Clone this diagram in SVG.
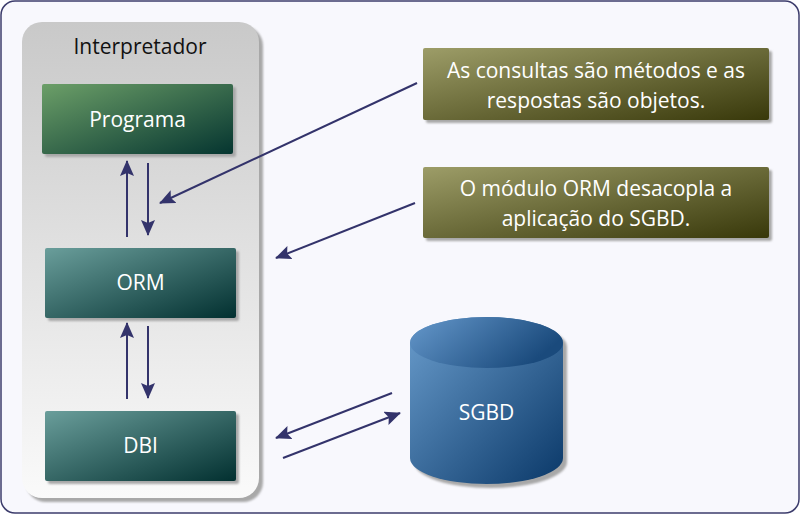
<svg xmlns="http://www.w3.org/2000/svg" width="800" height="514" viewBox="0 0 800 514">
<defs>
<linearGradient id="gCont" x1="0" y1="0" x2="0" y2="1">
<stop offset="0" stop-color="#c9c9c9"/><stop offset="1" stop-color="#fafafa"/>
</linearGradient>
<linearGradient id="gProg" x1="0" y1="0" x2="1" y2="1">
<stop offset="0" stop-color="#6c9f68"/><stop offset="1" stop-color="#053530"/>
</linearGradient>
<linearGradient id="gTeal" x1="0" y1="0" x2="1" y2="1">
<stop offset="0" stop-color="#6a9e9b"/><stop offset="1" stop-color="#023030"/>
</linearGradient>
<linearGradient id="gNote" x1="0" y1="0" x2="1" y2="1">
<stop offset="0" stop-color="#9d9d68"/><stop offset="1" stop-color="#38380a"/>
</linearGradient>
<linearGradient id="gCyl" x1="0" y1="0" x2="1" y2="1">
<stop offset="0" stop-color="#6a9dcd"/><stop offset="1" stop-color="#0a3868"/>
</linearGradient>
<linearGradient id="gCylTop" x1="0" y1="0" x2="1" y2="0.4">
<stop offset="0" stop-color="#6699cc"/><stop offset="1" stop-color="#1a4a7c"/>
</linearGradient>
<filter id="blur" x="-10%" y="-10%" width="120%" height="120%"><feGaussianBlur stdDeviation="1.2"/></filter>
<marker id="ah" viewBox="0 0 16 14" refX="15" refY="7" markerWidth="16" markerHeight="14" markerUnits="userSpaceOnUse" orient="auto">
<path d="M0,0 L16,7 L0,14 L3,7 Z" fill="#33336b"/>
</marker>
</defs>
<style>
.lbl{font-family:"Open Sans","Noto Sans","DejaVu Sans",sans-serif;font-size:21px;fill:#ffffff;text-anchor:middle}
.title{font-family:"Open Sans","Noto Sans","DejaVu Sans",sans-serif;font-size:21px;fill:#111111;text-anchor:middle}
.shadow{fill:#a8a8a8;filter:url(#blur)}
.conn{stroke:#33336b;stroke-width:2;fill:none;marker-end:url(#ah)}
</style>
<rect x="1" y="1" width="798" height="512" rx="14" fill="#f8f8fd" stroke="#3c3c6c" stroke-width="1.5"/>
<g id="interpretador">
<rect x="26" y="26" width="237" height="476" rx="20" class="shadow"/>
<rect x="22" y="22" width="237" height="476" rx="20" fill="url(#gCont)"/>
<text x="140" y="54" class="title">Interpretador</text>
</g>
<g id="programa">
<rect x="45" y="87" width="191" height="70" rx="2" class="shadow"/>
<rect x="42" y="84" width="191" height="70" rx="2" fill="url(#gProg)"/>
<text x="137.5" y="127" class="lbl">Programa</text>
</g>
<g id="orm">
<rect x="48" y="251" width="191" height="70" rx="2" class="shadow"/>
<rect x="45" y="248" width="191" height="70" rx="2" fill="url(#gTeal)"/>
<text x="140.5" y="290" class="lbl">ORM</text>
</g>
<g id="dbi">
<rect x="48" y="414" width="191" height="70" rx="2" class="shadow"/>
<rect x="45" y="411" width="191" height="70" rx="2" fill="url(#gTeal)"/>
<text x="140.5" y="453" class="lbl">DBI</text>
</g>
<g id="note1">
<rect x="426" y="51" width="346" height="72" rx="2" class="shadow"/>
<rect x="423" y="48" width="346" height="72" rx="2" fill="url(#gNote)"/>
<text x="596" y="78" class="lbl">As consultas são métodos e as</text>
<text x="596" y="108" class="lbl">respostas são objetos.</text>
</g>
<g id="note2">
<rect x="426" y="170" width="346" height="71" rx="2" class="shadow"/>
<rect x="423" y="167" width="346" height="71" rx="2" fill="url(#gNote)"/>
<text x="596" y="196" class="lbl">O módulo ORM desacopla a</text>
<text x="596" y="226" class="lbl">aplicação do SGBD.</text>
</g>
<g id="sgbd">
<path d="M414,347 A76.5,26 0 0 1 567,347 L567,462 A76.5,26 0 0 1 414,462 Z" class="shadow"/>
<path d="M410,343 A76.5,26 0 0 1 563,343 L563,458 A76.5,26 0 0 1 410,458 Z" fill="url(#gCyl)"/>
<path d="M410,343 A76.5,26 0 0 1 563,343 A76.5,25 0 0 1 410,343 Z" fill="url(#gCylTop)"/>
<text x="486.5" y="420" class="lbl">SGBD</text>
</g>
<g id="connectors">
<line x1="127" y1="237" x2="127" y2="161" class="conn"/>
<line x1="148" y1="163" x2="148" y2="235" class="conn"/>
<line x1="127" y1="399" x2="127" y2="323" class="conn"/>
<line x1="148" y1="326" x2="148" y2="398" class="conn"/>
<line x1="417" y1="83" x2="160" y2="203" class="conn"/>
<line x1="415" y1="203" x2="276" y2="258" class="conn"/>
<line x1="392" y1="393" x2="276" y2="438" class="conn"/>
<line x1="283" y1="458" x2="400" y2="413" class="conn"/>
</g>
</svg>
